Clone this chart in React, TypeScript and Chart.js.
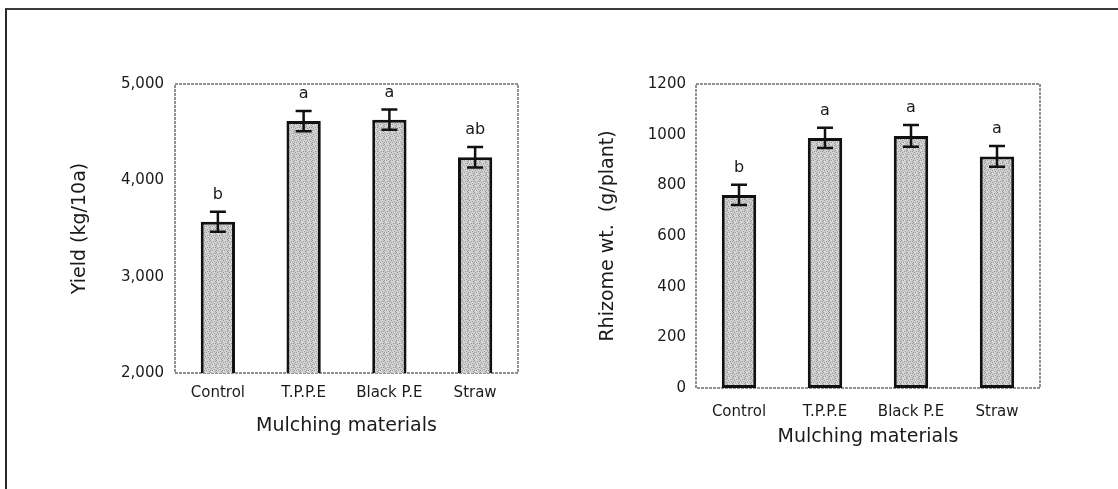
import { useEffect, useRef } from "react";
import { Chart, registerables } from "chart.js";

Chart.register(...registerables);

// ---------- data ----------
const categories = ["Control", "T.P.P.E", "Black P.E", "Straw"];

const yieldValues = [3570, 4615, 4630, 4240];
const yieldErrors = [105, 105, 106, 107];
const yieldLetters = ["b", "a", "a", "ab"];
const yieldMin = 2000;
const yieldMax = 5000;
const yieldStep = 1000;

const rhizomeValues = [762, 987, 995, 914];
const rhizomeErrors = [40, 40, 43, 41];
const rhizomeLetters = ["b", "a", "a", "a"];
const rhizomeMin = 0;
const rhizomeMax = 1200;
const rhizomeStep = 200;

const xTitle = "Mulching materials";
const yieldTitle = "Yield (kg/10a)";
const rhizomeTitle = "Rhizome wt.  (g/plant)";

const FONT = "'DejaVu Sans', 'Liberation Sans', sans-serif";
const TEXT = "#1a1a1a";

function makePattern(): CanvasPattern | string {
  const c = document.createElement("canvas");
  c.width = 6;
  c.height = 6;
  const g = c.getContext("2d");
  if (!g) return "#c2c2c2";
  g.fillStyle = "#cdcdcd";
  g.fillRect(0, 0, 6, 6);
  g.fillStyle = "#9a9a9a";
  const dots = [
    [0, 0], [3, 1], [1, 2], [4, 3], [2, 4], [5, 5], [5, 1], [0, 4],
  ];
  dots.forEach(([x, y]) => g.fillRect(x, y, 1, 1));
  g.fillStyle = "#e2e2e2";
  [[2, 0], [4, 2], [1, 5], [3, 4]].forEach(([x, y]) => g.fillRect(x, y, 1, 1));
  const p = g.createPattern(c, "repeat");
  return p || "#c2c2c2";
}

const framePlugin = {
  id: "frameBox",
  beforeDatasetsDraw(chart: any) {
    const { ctx, chartArea } = chart;
    ctx.save();
    ctx.strokeStyle = "#6e6e6e";
    ctx.lineWidth = 1.5;
    ctx.setLineDash([3, 1]);
    ctx.strokeRect(
      chartArea.left,
      chartArea.top,
      chartArea.right - chartArea.left,
      chartArea.bottom - chartArea.top
    );
    ctx.restore();
  },
};

function makeErrPlugin(values: number[], errors: number[], letters: string[]) {
  return {
    id: "errLetters",
    afterDatasetsDraw(chart: any) {
      const { ctx } = chart;
      const y = chart.scales.y;
      const meta = chart.getDatasetMeta(0);
      ctx.save();
      ctx.strokeStyle = "#111";
      ctx.lineWidth = 2.5;
      ctx.fillStyle = TEXT;
      ctx.font = `16px ${FONT}`;
      ctx.textAlign = "center";
      ctx.textBaseline = "middle";
      values.forEach((v, i) => {
        const x = meta.data[i].x;
        const top = y.getPixelForValue(v + errors[i]);
        const bot = y.getPixelForValue(v - errors[i]);
        const cap = 8;
        ctx.beginPath();
        ctx.moveTo(x, top);
        ctx.lineTo(x, bot);
        ctx.moveTo(x - cap, top);
        ctx.lineTo(x + cap, top);
        ctx.moveTo(x - cap, bot);
        ctx.lineTo(x + cap, bot);
        ctx.stroke();
        ctx.fillText(letters[i], x, top - 17);
      });
      ctx.restore();
    },
  };
}

interface PanelCfg {
  values: number[];
  errors: number[];
  letters: string[];
  min: number;
  max: number;
  step: number;
  yTitle: string;
  comma: boolean;
  yWidth: number;
  xHeight: number;
  padRight: number;
  xTickPad: number;
  xTitlePad: number;
  yTickPad: number;
  yTitlePad: number;
}

function Panel({ cfg, left }: { cfg: PanelCfg; left: number }) {
  const ref = useRef<HTMLCanvasElement | null>(null);
  useEffect(() => {
    if (!ref.current) return;
    const pattern = makePattern();
    const chart = new Chart(ref.current, {
      type: "bar",
      data: {
        labels: categories,
        datasets: [
          {
            data: cfg.values,
            backgroundColor: pattern as any,
            borderColor: "#111",
            borderWidth: 3,
            borderSkipped: false,
            barPercentage: 0.4,
            categoryPercentage: 1,
          },
        ],
      },
      options: {
        responsive: false,
        maintainAspectRatio: false,
        animation: false,
        layout: { padding: { top: 84, right: cfg.padRight, left: 0, bottom: 0 } },
        plugins: { legend: { display: false }, tooltip: { enabled: false } },
        scales: {
          x: {
            grid: { display: false, drawTicks: false },
            border: { display: false },
            ticks: {
              color: TEXT,
              font: { family: FONT, size: 15 },
              padding: cfg.xTickPad,
              maxRotation: 0,
              autoSkip: false,
            },
            title: {
              display: true,
              text: xTitle,
              color: TEXT,
              font: { family: FONT, size: 19 },
              padding: { top: 0, bottom: cfg.xTitlePad },
            },
            afterFit: (s: any) => {
              s.height = cfg.xHeight;
            },
          },
          y: {
            min: cfg.min,
            max: cfg.max,
            grid: { display: false, drawTicks: false },
            border: { display: false },
            ticks: {
              stepSize: cfg.step,
              color: TEXT,
              font: { family: FONT, size: 15 },
              padding: cfg.yTickPad,
              callback: (v: any) =>
                cfg.comma ? Number(v).toLocaleString("en-US") : String(v),
            },
            title: {
              display: true,
              text: cfg.yTitle,
              color: TEXT,
              font: { family: FONT, size: 19 },
              padding: { top: cfg.yTitlePad, bottom: 0 },
            },
            afterFit: (s: any) => {
              s.width = cfg.yWidth;
            },
          },
        },
      },
      plugins: [framePlugin, makeErrPlugin(cfg.values, cfg.errors, cfg.letters)],
    });
    return () => chart.destroy();
  }, [cfg]);
  return (
    <canvas
      ref={ref}
      width={559}
      height={489}
      style={{ position: "absolute", left, top: 0, display: "block" }}
    />
  );
}

const leftCfg: PanelCfg = {
  values: yieldValues,
  errors: yieldErrors,
  letters: yieldLetters,
  min: yieldMin,
  max: yieldMax,
  step: yieldStep,
  yTitle: yieldTitle,
  comma: true,
  yWidth: 175,
  xHeight: 116,
  padRight: 41,
  xTickPad: 11,
  xTitlePad: 52,
  yTickPad: 11,
  yTitlePad: 69,
};

const rightCfg: PanelCfg = {
  values: rhizomeValues,
  errors: rhizomeErrors,
  letters: rhizomeLetters,
  min: rhizomeMin,
  max: rhizomeMax,
  step: rhizomeStep,
  yTitle: rhizomeTitle,
  comma: false,
  yWidth: 137,
  xHeight: 101,
  padRight: 78,
  xTickPad: 15,
  xTitlePad: 41,
  yTickPad: 10,
  yTitlePad: 38,
};

export default function App() {
  return (
    <div
      style={{
        position: "fixed",
        left: 0,
        top: 0,
        width: 1118,
        height: 489,
        background: "#fff",
        overflow: "hidden",
      }}
    >
      <div
        style={{
          position: "absolute",
          left: 5,
          top: 8,
          right: 0,
          bottom: -4,
          borderTop: "2px solid #3a3a3a",
          borderLeft: "2px solid #2a2a2a",
        }}
      />
      <Panel cfg={leftCfg} left={0} />
      <Panel cfg={rightCfg} left={559} />
    </div>
  );
}
